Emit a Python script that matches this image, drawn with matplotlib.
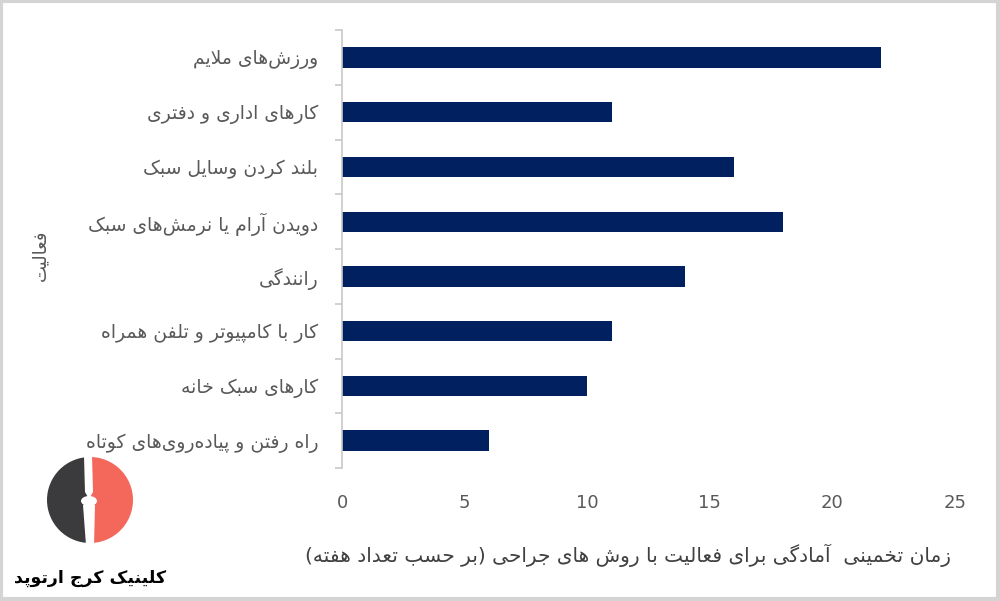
import matplotlib
matplotlib.use("Agg")
import matplotlib.pyplot as plt
from matplotlib.patches import Wedge, Rectangle, Polygon, Ellipse

# Activities (top to bottom) and estimated weeks
activities = [
    "ورزش‌های ملایم",
    "کارهای اداری و دفتری",
    "بلند کردن وسایل سبک",
    "دویدن آرام یا نرمش‌های سبک",
    "رانندگی",
    "کار با کامپیوتر و تلفن همراه",
    "کارهای سبک خانه",
    "راه رفتن و پیاده‌روی‌های کوتاه",
]
weeks = [22, 11, 16, 18, 14, 11, 10, 6]
x_ticks = [0, 5, 10, 15, 20, 25]

x_title = "زمان تخمینی  آمادگی برای فعالیت با روش های جراحی (بر حسب تعداد هفته)"
y_title = "فعالیت"
logo_text = "کلینیک کرج ارتوپد"

# --- minimal Persian shaping (matplotlib has no complex text layout) ---
# letter: (isolated, final, initial, medial); None for initial/medial = right-joining only
FORMS = {
    "ا": (0xFE8D, 0xFE8E, None, None), "آ": (0xFE81, 0xFE82, None, None),
    "ب": (0xFE8F, 0xFE90, 0xFE91, 0xFE92), "پ": (0xFB56, 0xFB57, 0xFB58, 0xFB59),
    "ت": (0xFE95, 0xFE96, 0xFE97, 0xFE98), "ث": (0xFE99, 0xFE9A, 0xFE9B, 0xFE9C),
    "ج": (0xFE9D, 0xFE9E, 0xFE9F, 0xFEA0), "چ": (0xFB7A, 0xFB7B, 0xFB7C, 0xFB7D),
    "ح": (0xFEA1, 0xFEA2, 0xFEA3, 0xFEA4), "خ": (0xFEA5, 0xFEA6, 0xFEA7, 0xFEA8),
    "د": (0xFEA9, 0xFEAA, None, None), "ذ": (0xFEAB, 0xFEAC, None, None),
    "ر": (0xFEAD, 0xFEAE, None, None), "ز": (0xFEAF, 0xFEB0, None, None),
    "ژ": (0xFB8A, 0xFB8B, None, None),
    "س": (0xFEB1, 0xFEB2, 0xFEB3, 0xFEB4), "ش": (0xFEB5, 0xFEB6, 0xFEB7, 0xFEB8),
    "ص": (0xFEB9, 0xFEBA, 0xFEBB, 0xFEBC), "ض": (0xFEBD, 0xFEBE, 0xFEBF, 0xFEC0),
    "ط": (0xFEC1, 0xFEC2, 0xFEC3, 0xFEC4), "ظ": (0xFEC5, 0xFEC6, 0xFEC7, 0xFEC8),
    "ع": (0xFEC9, 0xFECA, 0xFECB, 0xFECC), "غ": (0xFECD, 0xFECE, 0xFECF, 0xFED0),
    "ف": (0xFED1, 0xFED2, 0xFED3, 0xFED4), "ق": (0xFED5, 0xFED6, 0xFED7, 0xFED8),
    "ک": (0xFB8E, 0xFB8F, 0xFB90, 0xFB91), "گ": (0xFB92, 0xFB93, 0xFB94, 0xFB95),
    "ل": (0xFEDD, 0xFEDE, 0xFEDF, 0xFEE0), "م": (0xFEE1, 0xFEE2, 0xFEE3, 0xFEE4),
    "ن": (0xFEE5, 0xFEE6, 0xFEE7, 0xFEE8), "و": (0xFEED, 0xFEEE, None, None),
    "ه": (0xFEE9, 0xFEEA, 0xFEEB, 0xFEEC), "ی": (0xFBFC, 0xFBFD, 0xFBFE, 0xFBFF),
}
LAM_ALEF = {"ا": (0xFEFB, 0xFEFC), "آ": (0xFEF5, 0xFEF6)}
MIRROR = {"(": ")", ")": "("}


def dual(c):
    return c in FORMS and FORMS[c][2] is not None


def fa(text):
    out = []
    i = 0
    n = len(text)
    while i < n:
        c = text[i]
        if c not in FORMS:
            if c != "\u200c":
                out.append(MIRROR.get(c, c))
            i += 1
            continue
        prev = text[i - 1] if i > 0 else ""
        joins_prev = dual(prev)
        if c == "ل" and i + 1 < n and text[i + 1] in LAM_ALEF:
            iso, fin = LAM_ALEF[text[i + 1]]
            out.append(chr(fin if joins_prev else iso))
            i += 2
            continue
        nxt = text[i + 1] if i + 1 < n else ""
        joins_next = dual(c) and nxt in FORMS
        iso, fin, ini, med = FORMS[c]
        if joins_prev and joins_next:
            code = med
        elif joins_prev:
            code = fin
        elif joins_next:
            code = ini
        else:
            code = iso
        out.append(chr(code))
        i += 1
    return "".join(reversed(out))


plt.rcParams["font.family"] = ["DejaVu Sans"]

fig = plt.figure(figsize=(10, 6.01), dpi=100)
ax = fig.add_axes([0.342, 0.2213, 0.613, 0.7287])

pos = list(range(len(activities)))
ax.barh(pos, weeks, height=0.37, color="#002060")
ax.set_ylim(len(activities) - 0.5, -0.5)
ax.set_xlim(0, 25)

ax.set_yticks(pos)
ax.set_yticklabels([fa(a) for a in activities], fontsize=13.5, color="#595959")
ax.set_yticks([p - 0.5 for p in pos] + [len(pos) - 0.5], minor=True)
ax.tick_params(axis="y", which="major", length=0, pad=17)
ax.tick_params(axis="y", which="minor", length=5, color="#c8c8c8", width=1.2)

ax.set_xticks(x_ticks)
ax.tick_params(axis="x", length=0, pad=19, labelsize=13, labelcolor="#595959")

for side in ["top", "right", "bottom"]:
    ax.spines[side].set_visible(False)
ax.spines["left"].set_color("#c8c8c8")
ax.spines["left"].set_linewidth(1.2)

fig.text(0.628, 0.076, fa(x_title), fontsize=14.5, color="#404040",
         ha="center", va="center")
fig.text(0.040, 0.576, fa(y_title), fontsize=13, color="#595959",
         rotation=90, ha="center", va="center")

# logo
lax = fig.add_axes([0, 0, 1, 1], facecolor="none")
lax.set_xlim(0, 1000)
lax.set_ylim(601, 0)
lax.axis("off")
cx, cy, r = 90, 500, 43
lax.add_patch(Wedge((cx, cy), r, 90, 270, facecolor="#3b3b3d", edgecolor="none"))
lax.add_patch(Wedge((cx, cy), r, -90, 90, facecolor="#f4685c", edgecolor="none"))
lax.add_patch(Polygon([(84, 456), (92, 456), (93, 492), (89, 499), (85, 492)],
                      facecolor="white", edgecolor="none"))
lax.add_patch(Ellipse((89, 501), 16, 10, facecolor="white", edgecolor="none"))
lax.add_patch(Polygon([(83, 505), (95, 505), (94, 545), (86, 545)],
                      facecolor="white", edgecolor="none"))
lax.text(90, 578, fa(logo_text), fontsize=12.5, color="black",
         fontweight="bold", ha="center", va="center")

# outer frame
lax.add_patch(Rectangle((1, 1), 997, 598, facecolor="none",
                        edgecolor="#d4d4d4", linewidth=3))

fig.savefig("out.png", dpi=100, facecolor="white")
